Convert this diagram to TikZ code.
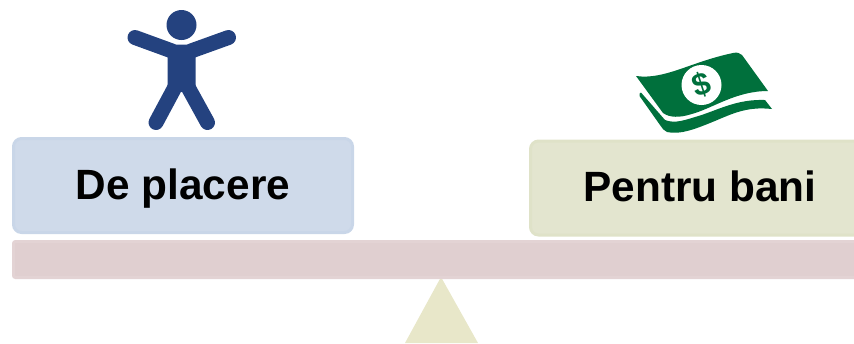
\documentclass[tikz,border=0pt]{standalone}
\usepackage{fontspec}
\setmainfont{Liberation Sans}
\def\px{0.02cm}
\definecolor{boxblue}{HTML}{CFDAEA}
\definecolor{boxolive}{HTML}{E3E5CF}
\definecolor{edgeblue}{HTML}{C9D6E8}
\definecolor{edgeolive}{HTML}{DFE2C8}
\definecolor{beamred}{HTML}{E0CFD0}
\definecolor{edgered}{HTML}{E3D3D4}
\definecolor{pivotolive}{HTML}{E8E7C9}
\definecolor{navy}{HTML}{24427F}
\definecolor{billgreen}{HTML}{00703C}
\tikzset{
  sidebox/.style={
    rectangle,rounded corners=8*\px,line width=3*\px,
    minimum width=339*\px,minimum height=94*\px,
    text height=18pt,text depth=2.6pt,
    font=\bfseries\fontsize{24.1}{28}\selectfont,text=black
  },
  limb/.style={navy,line width=15*\px,line cap=round}
}

\begin{document}
\begin{tikzpicture}[x=\px,y=-\px]
  \clip (0,0) rectangle (854,343);

  % Pivot and beam
  \fill[pivotolive] (441,277) -- (478,343) -- (405,343) -- cycle;
  \node[rectangle,rounded corners=2*\px,fill=beamred,draw=edgered,line width=3*\px,
    minimum width=855*\px,minimum height=36*\px] (beam) at (441,259.5) {};

  \node[sidebox,fill=boxblue,draw=edgeblue] (fun) at (183,185.5) {De placere};
  \node[sidebox,fill=boxolive,draw=edgeolive] (money) at (700,188) {Pentru bani};

  % Person
  \fill[navy] (181.5,25) circle (15);
  \draw[limb] (135,37.5) -- (172,51);
  \draw[limb] (228.5,37.5) -- (191,51);
  \fill[navy] (167.5,55) -- (172,44.5) -- (191,44.5) -- (195.5,55) -- (195.5,87) -- (181.5,92) -- (167.5,87) -- cycle;
  \draw[limb] (156,122.5) -- (174.5,88);
  \draw[limb] (207.5,122.5) -- (188.5,88);

  % Bills
  \fill[billgreen] (636,76) .. controls (665,80) and (690,62) .. (733,53)
    .. controls (737,52) and (740,53) .. (742,55) -- (768,91)
    .. controls (735,91) and (712,109) .. (690,114.5)
    .. controls (680,117.5) and (670,118) .. (663,113) -- cycle;
  \fill[billgreen] (641,92.5) -- (665,120)
    .. controls (675,124) and (685,120) .. (700,115.5)
    .. controls (720,109) and (738,99) .. (765,100) -- (772,109)
    .. controls (745,106) and (730,115) .. (710,123)
    .. controls (695,129) and (680,135) .. (667,132)
    .. controls (664,131) and (662,128) .. (660,125) -- (639.5,96)
    .. controls (639,94) and (640,92.5) .. (641,92.5) -- cycle;
  \fill[white] (701.5,85) circle (20);
  \node[billgreen,rotate=18,font=\bfseries\fontsize{18}{20}\selectfont] (dollar) at (701.5,85) {\$};
\end{tikzpicture}
\end{document}
